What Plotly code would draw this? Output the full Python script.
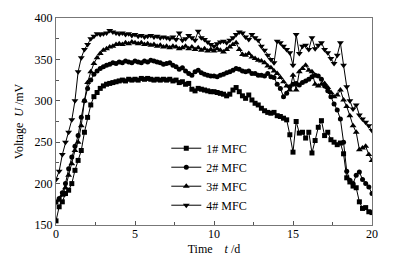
import plotly.graph_objects as go

time_d = [0.0, 0.2, 0.4, 0.6, 0.8, 1.0, 1.2, 1.4, 1.6, 1.8,
          2.0, 2.2, 2.4, 2.6, 2.8, 3.0, 3.2, 3.4, 3.6, 3.8,
          4.0, 4.2, 4.4, 4.6, 4.8, 5.0, 5.2, 5.4, 5.6, 5.8,
          6.0, 6.2, 6.4, 6.6, 6.8, 7.0, 7.2, 7.4, 7.6, 7.8,
          8.0, 8.2, 8.4, 8.6, 8.8, 9.0, 9.2, 9.4, 9.6, 9.8,
          10.0, 10.2, 10.4, 10.6, 10.8, 11.0, 11.2, 11.4, 11.6, 11.8,
          12.0, 12.2, 12.4, 12.6, 12.8, 13.0, 13.2, 13.4, 13.6, 13.8,
          14.0, 14.2, 14.4, 14.6, 14.8, 15.0, 15.2, 15.4, 15.6, 15.8,
          16.0, 16.2, 16.4, 16.6, 16.8, 17.0, 17.2, 17.4, 17.6, 17.8,
          18.0, 18.2, 18.4, 18.6, 18.8, 19.0, 19.2, 19.4, 19.6, 19.8, 20.0]

mfc1 = [155, 172, 178, 188, 192, 200, 216, 228, 240, 262,
        280, 295, 305, 310, 315, 318, 320, 321, 322, 323,
        324, 325, 324, 326, 325, 326, 325, 327, 326, 327,
        326, 325, 326, 325, 326, 325, 326, 324, 325, 322,
        323, 320, 321, 314, 312, 315, 314, 313, 312, 311,
        311, 310, 309, 308, 306, 308, 313, 316, 311, 306,
        303, 307, 301, 297, 295, 291, 288, 286, 285, 286,
        282, 281, 279, 277, 259, 238, 275, 261, 262, 255,
        262, 237, 252, 268, 276, 258, 262, 253, 250, 247,
        249, 236, 207, 202, 197, 195, 178, 170, 171, 166, 165]

mfc2 = [178, 182, 189, 200, 218, 232, 245, 258, 280, 300,
        315, 325, 332, 336, 339, 341, 343, 344, 346, 345,
        347, 346, 348, 347, 346, 348, 347, 346, 348, 347,
        349, 348, 347, 346, 344, 345, 346, 343, 341, 338,
        340, 336, 333, 331, 335, 337, 334, 332, 331, 330,
        330, 329, 331, 332, 334, 335, 337, 339, 338, 336,
        335, 336, 333, 333, 331, 331, 330, 333, 329, 328,
        320, 315, 305, 309, 317, 320, 321, 319, 322, 324,
        326, 329, 331, 330, 326, 318, 312, 305, 296, 289,
        278, 250, 215, 204, 200, 210, 214, 205, 200, 196, 188]

mfc3 = [176, 180, 186, 195, 210, 224, 240, 250, 270, 300,
        322, 335, 345, 352, 357, 361, 363, 365, 366, 368,
        369, 368, 370, 369, 371, 370, 369, 370, 368, 369,
        367, 368, 366, 367, 365, 366, 364, 366, 365, 363,
        364, 366, 363, 365, 362, 364, 361, 363, 360, 362,
        360, 363, 361, 359, 362, 365, 368, 370, 362, 356,
        355, 357, 353, 351, 349, 348, 346, 342, 340, 336,
        333, 328, 323, 318, 313, 331, 313, 335, 339, 343,
        337, 335, 320, 318, 320, 321, 316, 310, 305, 307,
        313, 301, 293, 282, 270, 262, 241, 243, 245, 235, 228]

mfc4 = [205, 215, 235, 250, 262, 277, 300, 335, 352, 362,
        368, 375, 378, 381, 380, 381, 382, 385, 383, 382,
        381, 382, 380, 381, 379, 380, 378, 379, 377, 378,
        379, 377, 378, 376, 377, 376, 375, 377, 374, 382,
        373, 375, 379, 376, 373, 384, 376, 374, 371, 368,
        366, 369, 371, 372, 370, 373, 376, 380, 383, 382,
        377, 374, 380, 376, 373, 366, 361, 355, 350, 346,
        372, 370, 366, 362, 358, 343, 380, 357, 366, 367,
        362, 376, 363, 367, 370, 362, 358, 351, 345, 355,
        370, 343, 317, 300, 290, 295, 283, 278, 274, 270, 264]

series_names = ["1# MFC", "2# MFC", "3# MFC", "4# MFC"]
x_ticks = [0, 5, 10, 15, 20]
y_ticks = [150, 200, 250, 300, 350, 400]

symbols = ["square", "circle", "triangle-up", "triangle-down"]
sizes = [5, 5, 6, 6]

FONT = "Liberation Serif, Times New Roman, serif"
NB = "\u00a0"

fig = go.Figure()
for name, vals, sym, sz in zip(series_names, [mfc1, mfc2, mfc3, mfc4], symbols, sizes):
    fig.add_trace(go.Scatter(
        x=time_d, y=vals, name=name, mode="lines+markers",
        line=dict(color="black", width=1),
        marker=dict(symbol=sym, size=sz, color="black", line=dict(width=0)),
    ))

axis_common = dict(
    showgrid=False, zeroline=False, showline=True, linecolor="#777", linewidth=1,
    mirror=True, ticks="inside", ticklen=4, tickcolor="#555", automargin=False,
    tickfont=dict(family=FONT, size=12, color="black"),
)

fig.update_xaxes(
    range=[0, 20], tickvals=x_ticks, ticktext=[str(v) for v in x_ticks],
    minor=dict(dtick=2.5, ticks="inside", ticklen=3, tickcolor="#555"),
    ticklabelstandoff=-2,
    title=dict(text="Time" + NB * 3 + " <i>t</i> /d",
               font=dict(family=FONT, size=12, color="black"), standoff=4),
    **axis_common,
)
fig.update_yaxes(
    range=[150, 400], tickvals=y_ticks, ticktext=[str(v) for v in y_ticks],
    minor=dict(dtick=25, ticks="inside", ticklen=3, tickcolor="#555"),
    title=dict(text=NB * 6 + "Voltage " + NB + "<i>U</i> /mV",
               font=dict(family=FONT, size=12, color="black"), standoff=8),
    **axis_common,
)

# page body adds an 8px offset, so the figure is sized/margined to compensate
fig.update_layout(
    width=387, height=257,
    margin=dict(l=48, r=23, t=10, b=40),
    paper_bgcolor="white", plot_bgcolor="white",
    font=dict(family=FONT, size=12, color="black"),
    showlegend=True,
    legend=dict(x=0.349, y=0.441, xanchor="left", yanchor="top",
                bgcolor="rgba(0,0,0,0)", borderwidth=0,
                font=dict(family=FONT, size=12, color="black"),
                itemwidth=30, tracegroupgap=0),
)

fig.write_html("out.html")
